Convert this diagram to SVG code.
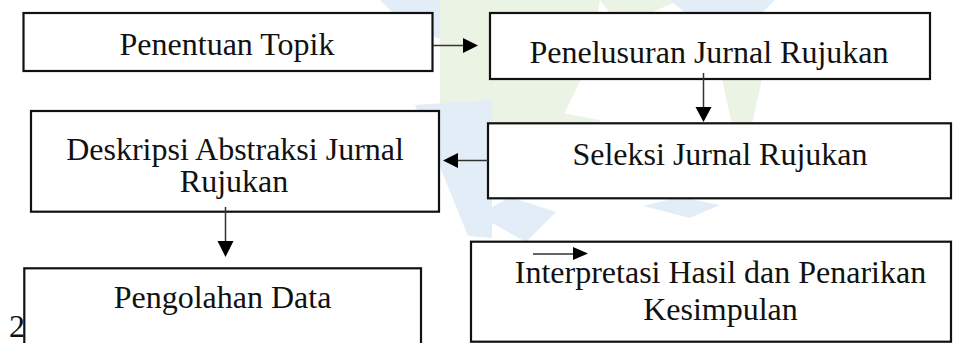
<svg xmlns="http://www.w3.org/2000/svg" width="958" height="343" viewBox="0 0 958 343">
<defs>
<style>
.box{fill:#fff;stroke:#111;stroke-width:2.2}
.t{font-family:"Liberation Serif","Times New Roman",serif;font-size:32px;fill:#111;text-anchor:middle}
.c{stroke:#333;stroke-width:1.5;fill:none}
.h{fill:#000}
.wb{fill:#e2edf8}
.wg{fill:#ebf3e4}
</style>
</defs>
<rect width="958" height="343" fill="#fff"/>
<g id="watermark">
<polygon class="wb" points="380,0 440,0 445,40 410,30"/>
<polygon class="wg" points="440,0 600,0 590,60 560,123 500,118 440,110"/>
<polygon class="wb" points="415,105 492,100 492,238 468,236"/>
<polygon class="wg" points="492,100 600,120 560,198 492,180"/>
<polygon class="wb" points="478,215 510,197 556,212 526,242"/>
<polygon class="wb" points="643,206 680,197 720,205 690,218"/>
<polygon class="wg" points="600,0 680,0 650,13 610,13"/>
<polygon class="wb" points="670,0 775,0 745,30 705,30"/>
<polygon class="wg" points="722,79 762,79 752,124 732,124"/>
</g>
<g id="n1"><rect class="box" x="23.5" y="13" width="409" height="58"/><text class="t" x="227" y="55">Penentuan Topik</text></g>
<g id="n2"><rect class="box" x="490" y="13" width="440" height="66"/><text class="t" x="709" y="63">Penelusuran Jurnal Rujukan</text></g>
<g id="n3"><rect class="box" x="488" y="123.3" width="463" height="75"/><text class="t" x="720" y="165">Seleksi Jurnal Rujukan</text></g>
<g id="n4"><rect class="box" x="31" y="111" width="408" height="100.7"/><text class="t" x="235" y="160">Deskripsi Abstraksi Jurnal</text><text class="t" x="234" y="192">Rujukan</text></g>
<g id="n5"><rect class="box" x="24.3" y="268.3" width="396.7" height="90"/><text class="t" x="222.5" y="308">Pengolahan Data</text></g>
<g id="n6"><rect class="box" x="471" y="241.7" width="480" height="100"/><text class="t" x="720.5" y="283">Interpretasi Hasil dan Penarikan</text><text class="t" x="720.5" y="320">Kesimpulan</text></g>
<g id="page"><text x="9" y="337" style="font-family:'Liberation Serif','Times New Roman',serif;font-size:32px;fill:#111">2</text></g>
<g id="connectors">
<line class="c" x1="433" y1="45.5" x2="465" y2="45.5"/><polygon class="h" points="463,38 478,45.5 463,53"/>
<line class="c" x1="703.5" y1="73" x2="703.5" y2="110"/><polygon class="h" points="695.5,107 711.5,107 703.5,122"/>
<line class="c" x1="488" y1="160.5" x2="456" y2="160.5"/><polygon class="h" points="458,153 443,160.5 458,168"/>
<line class="c" x1="225.5" y1="207" x2="225.5" y2="243"/><polygon class="h" points="217.5,241 233.5,241 225.5,257"/>
<line class="c" x1="533" y1="254" x2="575" y2="254"/><polygon class="h" points="573,247 588,253.5 573,260"/>
</g>
</svg>
